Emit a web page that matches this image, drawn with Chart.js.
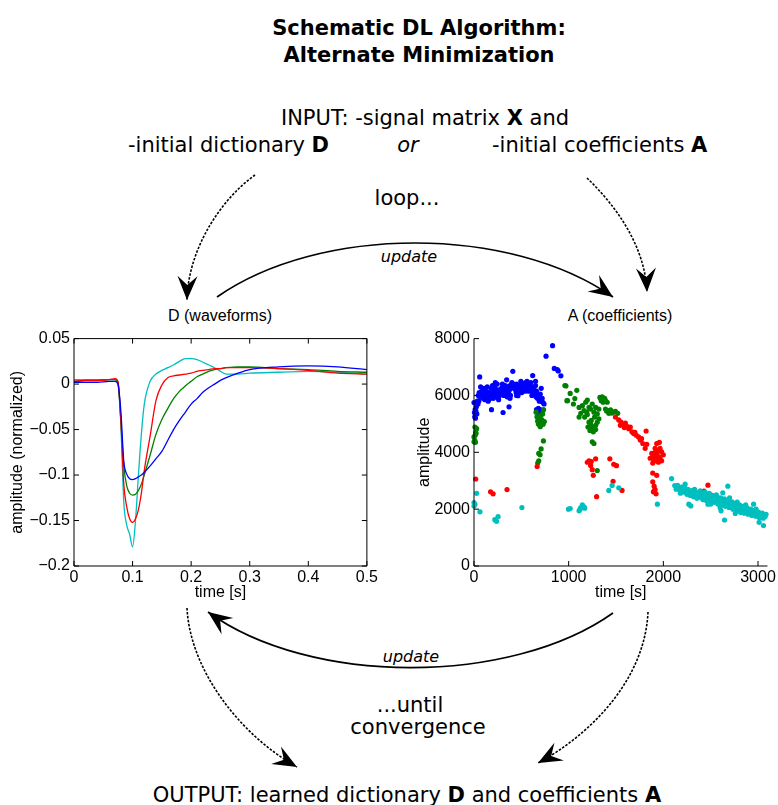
<!DOCTYPE html>
<html>
<head>
<meta charset="utf-8">
<script src="https://cdn.jsdelivr.net/npm/chart.js@4.4.1/dist/chart.umd.min.js"></script>
<style>
  html, body { margin: 0; padding: 0; background: #fff; }
  #page { position: relative; width: 778px; height: 805px; overflow: hidden; font-family: 'DejaVu Sans', sans-serif; color: #000; }
  .t { position: absolute; white-space: nowrap; transform: translate(-50%, -50%); font-size: 21px; line-height: 1; }
  .l { transform: translate(0, -50%); }
  .it { font-style: italic; }
  .small { font-size: 16px; }
  .plotTitle { font-family: 'Liberation Sans', Arial, sans-serif; font-size: 16px; }
  .box { position: absolute; }
  #arrows { position: absolute; left: 0; top: 0; pointer-events: none; }
</style>
</head>
<body>
<div id="page">
  <div class="t" style="left:419px; top:28px; font-weight:bold">Schematic DL Algorithm:</div>
  <div class="t" style="left:419px; top:55px; font-weight:bold">Alternate Minimization</div>
  <div class="t" style="left:425px; top:118px">INPUT: -signal matrix <b>X</b> and</div>
  <div class="t l" style="left:128px; top:145px">-initial dictionary <b>D</b></div>
  <div class="t it" style="left:408px; top:145px">or</div>
  <div class="t l" style="left:492px; top:145px">-initial coefficients <b>A</b></div>
  <div class="t" style="left:407px; top:198px">loop...</div>
  <div class="t it small" style="left:409px; top:257px">update</div>
  <div class="t plotTitle" style="left:220px; top:316px">D (waveforms)</div>
  <div class="t plotTitle" style="left:620px; top:316px">A (coefficients)</div>
  <div class="box" style="left:0; top:325px; width:380px; height:277px"><canvas id="waveChart"></canvas></div>
  <div class="box" style="left:400px; top:325px; width:378px; height:277px"><canvas id="coefChart"></canvas></div>
  <div class="t it small" style="left:411px; top:657px">update</div>
  <div class="t" style="left:410px; top:705px">...until</div>
  <div class="t" style="left:418px; top:727px">convergence</div>
  <div class="t" style="left:407px; top:795px">OUTPUT: learned dictionary <b>D</b> and coefficients <b>A</b></div>
  <canvas id="arrows" width="778" height="805"></canvas>
</div>
<script>
// waveforms (left panel)
const waveTime = [0, 0.02, 0.04, 0.06, 0.07, 0.075, 0.08, 0.085, 0.09, 0.095, 0.1, 0.105, 0.11, 0.115, 0.12, 0.13, 0.14, 0.15, 0.16, 0.17, 0.18, 0.19, 0.2, 0.21, 0.22, 0.23, 0.24, 0.25, 0.26, 0.28, 0.3, 0.35, 0.4, 0.45, 0.5];
const waveBlue  = [0.002, 0.002, 0.002, 0.003, 0.003, 0.0, -0.03, -0.085, -0.099, -0.104, -0.105, -0.104, -0.102, -0.100, -0.097, -0.090, -0.082, -0.074, -0.062, -0.050, -0.040, -0.031, -0.022, -0.016, -0.009, -0.004, 0.0, 0.004, 0.007, 0.012, 0.016, 0.019, 0.020, 0.019, 0.016];
const waveGreen = [0.003, 0.004, 0.004, 0.005, 0.005, 0.002, -0.04, -0.09, -0.112, -0.12, -0.122, -0.121, -0.117, -0.110, -0.100, -0.078, -0.055, -0.039, -0.027, -0.016, -0.008, -0.002, 0.003, 0.008, 0.011, 0.014, 0.016, 0.017, 0.018, 0.019, 0.019, 0.017, 0.016, 0.014, 0.013];
const waveRed   = [0.003, 0.004, 0.004, 0.005, 0.006, 0.003, -0.04, -0.11, -0.135, -0.148, -0.152, -0.148, -0.138, -0.12, -0.095, -0.057, -0.018, -0.001, 0.007, 0.009, 0.010, 0.011, 0.012, 0.014, 0.015, 0.016, 0.017, 0.017, 0.018, 0.018, 0.018, 0.017, 0.015, 0.012, 0.011];
const waveCyan  = [0.005, 0.005, 0.005, 0.005, 0.005, 0.0, -0.045, -0.13, -0.155, -0.165, -0.179, -0.15, -0.10, -0.055, -0.022, 0.003, 0.011, 0.015, 0.018, 0.021, 0.025, 0.028, 0.028, 0.027, 0.024, 0.021, 0.018, 0.014, 0.011, 0.011, 0.012, 0.013, 0.014, 0.013, 0.011];
const waveXTicks = [0, 0.1, 0.2, 0.3, 0.4, 0.5];
const waveYTicks = [-0.2, -0.15, -0.1, -0.05, 0, 0.05];

// coefficients (right panel), [time, amplitude]
const coefBlue = [
  [0,5750],[5,5400],[8,5250],[12,5500],[15,5200],[20,5450],[25,5600],[30,5350],[35,5800],[42,5700],[45,6000],[50,5800],[55,6100],[60,6650],[63,5950],[70,6300],[75,6050],[80,5950],[85,6150],[90,6000],[95,5900],
  [100,6100],[105,5950],[110,6050],[115,5850],[120,6000],[125,6150],[130,5900],[135,6050],[140,5950],[145,6100],[150,6000],[155,5850],[160,6100],[170,6000],[175,5900],[180,6250],[185,5500],[190,6100],[195,6350],[200,6000],[205,5900],[210,6150],[215,6050],[220,6300],[225,6450],[230,5950],[235,6100],[240,6000],[250,5950],[255,6200],[260,6050],[270,6000],[280,6150],[290,6250],[300,6100],[307,5400],[310,6300],[315,6000],[320,6200],[330,6350],[335,6150],[340,6050],[345,6550],[350,6250],[360,6300],[365,6100],[370,5600],[375,6200],[380,6350],[385,6000],[390,6250],[400,6300],[410,6850],[415,6400],[425,6250],[430,6350],[440,6200],[445,6100],[450,6400],[460,6300],[464,5990],[470,6250],[480,6350],[490,6100],[495,6500],[500,6300],[510,6200],[515,6400],[520,6250],[530,6350],[540,6150],[545,6450],[550,6300],[560,6250],[570,6400],[580,6150],[590,6350],[600,6450],[605,6200],[610,6300],[620,6700],[625,6100],[630,6250],[640,6050],[650,6350],[655,5950],[660,6150],[670,5900],[680,6000],[690,5800],[700,6050],[710,6250],[715,5800],[720,5900],[730,5750],[740,5700],[660,5500],[675,5400],[680,5550],[690,5250],[700,5500],[685,5350],
  [110,6250],[150,5800],[200,6300],[260,5850],[300,6400],[350,5950],[400,6450],[450,6000],[505,6100],[560,6500],[612,6000],[650,6500],[245,6400],[140,6300],[380,5900],
  [761,7380],[830,7750],[848,6950],[880,6910],[890,6860],[918,6690]
];
const coefGreen = [
  [0,4370],[0,4540],[8,4420],[10,4890],[12,4600],[18,4700],[21,4660],[28,4830],[15,4350],
  [656,5410],[665,5250],[672,5100],[680,5000],[688,5200],[692,4960],[700,5050],[705,5300],[710,4980],[715,5150],[720,5060],[725,5350],[730,4990],[735,5500],[743,5080],[700,4900],[690,5050],
  [733,4400],[709,4120],[698,3910],[684,3960],[684,3700],[673,3620],
  [960,6350],[971,6335],[981,5815],[988,5815],[1016,6070],[1050,5700],[1065,5890],[1086,6180],
  [1110,5580],[1145,5640],[1180,5760],[1197,5840],[1215,5580],[1232,5520],[1249,5700],[1267,5410],[1285,5580],[1302,5350],[1319,5520],[1162,5470],[1128,5370],[1110,5240],[1169,5240],[1197,5330],[1215,5060],[1232,4980],[1249,4890],[1267,4830],[1285,4950],[1302,5060],[1319,5180],[1204,4890],[1225,4770],[1260,4720],[1285,4800],[1239,5120],[1274,5240],[1190,5410],
  [1330,5930],[1354,5950],[1372,5870],[1389,5815],[1344,5815],[1407,5760],[1364,5760],[1340,5880],[1380,5900],
  [1389,5520],[1414,5470],[1442,5490],[1469,5410],[1494,5440],[1518,5370],[1424,5370],[1400,5450],[1455,5380],
  [1249,4370],[1267,4310],[1302,3360]
];
const coefRed = [
  [18,3060],[175,2610],[202,2540],[349,2690],[667,3500],
  [1197,3650],[1215,3700],[1239,3675],[1285,3770],[1232,3540],[1249,3390],[1260,3190],[1295,2440],[1435,3770],[1476,3580],[1505,3530],[1469,2980],[1564,2660],
  [1494,5240],[1529,5140],[1553,5060],[1574,4980],[1599,5030],[1616,4910],[1634,4830],[1651,4890],[1668,4720],[1686,4660],[1714,4600],[1738,4540],[1756,4430],[1783,4310],[1818,4750],[1546,4950],[1588,4870],[1700,4700],[1770,4480],[1808,4140],[1825,4280],
  [1930,4310],[1958,4350],[1913,4140],[1948,4050],[1982,4020],[1878,3960],[1895,3850],[1930,3910],[1965,3790],[2000,3910],[1913,3700],[1948,3650],[1888,3620],[1982,3700],[1861,3790],[1913,4000],[1965,4140],[1937,3790],[1900,3750],[1950,3850],[1920,3820],
  [1888,3270],[1930,3190],[1888,2960],[1903,2810],[1913,2690],[1895,2610],[1923,2540],[1905,2650],
  [2429,2635],[2471,2843],[2506,2496]
];
const coefCyan = [
  [0,2230],[0,2115],[10,2170],[28,2555],[63,1907],[220,1630],[238,1571],[254,1734],[506,2056],[998,2000],
  [1016,2022],[1110,1942],[1120,2000],[1128,2056],[1145,2150],[1162,2080],[1170,2035],
  [1424,2659],[1459,2833],[1529,2750],[1937,2174],[2087,3075],
  [2120,2830],[2135,2700],[2150,2840],[2160,2760],[2175,2660],[2190,2780],[2200,2700],[2215,2600],[2225,2760],[2240,2640],[2250,2520],[2260,2700],[2275,2600],[2285,2480],[2300,2650],[2310,2560],[2320,2440],[2335,2620],[2345,2500],[2355,2380],[2370,2580],[2380,2470],[2390,2640],[2400,2400],[2410,2520],[2420,2330],[2435,2560],[2445,2440],[2455,2300],[2465,2500],[2475,2380],[2485,2560],[2495,2270],[2505,2430],[2515,2330],[2525,2480],[2535,2240],[2545,2400],[2555,2300],[2565,2450],[2575,2180],[2585,2350],[2595,2260],[2605,2400],[2615,2150],[2625,2300],[2635,2200],[2645,2360],[2655,2100],[2665,2250],[2675,2150],[2685,2320],[2695,2060],[2705,2200],[2715,2100],[2725,2260],[2735,2000],[2745,2150],[2755,2050],[2765,2200],[2775,1950],[2785,2100],[2795,2000],[2805,2150],[2815,1900],[2825,2050],[2835,1960],[2845,2100],[2855,1860],[2865,2000],[2875,1900],[2885,2050],[2895,1820],[2905,1960],[2915,1860],[2925,2000],[2935,1780],[2945,1920],[2955,1820],[2965,1960],[2975,1750],[2985,1880],[2995,1790],[3005,1900],[3015,1700],[3025,1840],[3035,1760],[3045,1860],[3055,1680],[3065,1800],[3075,1740],[3085,1820],
  [2180,2560],[2230,2880],[2330,2700],[2440,2600],[2560,2500],[2700,2400],[2780,2250],[2870,2150],[2980,2000],[2500,2180],[2600,2050],[2760,1850],
  [2269,2174],[2290,2115],[2646,1619],[2681,2808],[2628,2577],[2953,2174],[3012,1536],[3058,1422],[2820,1883],[2471,2174],[2610,1942]
];
const coefXTicks = [0, 1000, 2000, 3000];
const coefYTicks = [0, 2000, 4000, 6000, 8000];

const MBLUE = '#0000ff', MGREEN = '#008000', MRED = '#ff0000', MCYAN = '#00bfbf';

Chart.defaults.font.family = "'Liberation Sans', Arial, sans-serif";
Chart.defaults.font.size = 16;
Chart.defaults.color = '#000';

// matlab style axes: frame + ticks pointing inward
const axesFrame = {
    id: 'axesFrame',
    afterDatasetsDraw(chart, args, opts) {
        const { ctx, chartArea: a, scales: { x, y } } = chart;
        const L = 5;
        ctx.save();
        ctx.strokeStyle = '#000';
        ctx.lineWidth = 1;
        ctx.beginPath();
        if (opts.box) {
            ctx.rect(a.left, a.top, a.right - a.left, a.bottom - a.top);
        } else {
            ctx.moveTo(a.left, a.top);
            ctx.lineTo(a.left, a.bottom);
            ctx.lineTo(a.right, a.bottom);
        }
        x.ticks.forEach(t => {
            const px = x.getPixelForValue(t.value);
            ctx.moveTo(px, a.bottom); ctx.lineTo(px, a.bottom - L);
            if (opts.box) { ctx.moveTo(px, a.top); ctx.lineTo(px, a.top + L); }
        });
        y.ticks.forEach(t => {
            const py = y.getPixelForValue(t.value);
            ctx.moveTo(a.left, py); ctx.lineTo(a.left + L, py);
            if (opts.box) { ctx.moveTo(a.right, py); ctx.lineTo(a.right - L, py); }
        });
        ctx.stroke();
        ctx.restore();
    }
};

function fmt(v) {
    return v === 0 ? '0' : String(v).replace('-', '\u2212');
}

function axis(min, max, ticks, title, isY, titlePad) {
    return {
        type: 'linear',
        min: min,
        max: max,
        grid: { display: false, drawTicks: false },
        border: { display: false },
        afterBuildTicks: s => { s.ticks = ticks.map(v => ({ value: v })); },
        afterFit: s => { if (isY) s.width = 74; else s.height = 36; },
        ticks: { padding: isY ? 4 : 2, callback: v => fmt(v), font: { size: 16 } },
        title: { display: true, text: title, font: { size: 16 }, padding: isY ? { top: titlePad } : { bottom: 0 } }
    };
}

function waveSet(vals, color, order) {
    return {
        data: waveTime.map((t, i) => ({ x: t, y: vals[i] })),
        borderColor: color,
        borderWidth: 1.3,
        pointRadius: 0,
        cubicInterpolationMode: 'monotone',
        order: order
    };
}

new Chart(document.getElementById('waveChart'), {
    type: 'line',
    data: {
        datasets: [
            waveSet(waveBlue, MBLUE, 1),
            waveSet(waveGreen, MGREEN, 3),
            waveSet(waveRed, MRED, 2),
            waveSet(waveCyan, MCYAN, 4)
        ]
    },
    options: {
        responsive: true,
        maintainAspectRatio: false,
        animation: false,
        layout: { padding: { top: 10, right: 13, left: 0, bottom: 0 } },
        plugins: { legend: { display: false }, tooltip: { enabled: false }, axesFrame: { box: true } },
        scales: {
            x: axis(0, 0.5, waveXTicks, 'time [s]', false),
            y: axis(-0.2, 0.05, waveYTicks, 'amplitude (normalized)', true, 8)
        }
    },
    plugins: [axesFrame]
});

function coefSet(pts, color, order) {
    return {
        data: pts.map(p => ({ x: p[0], y: p[1] })),
        backgroundColor: color,
        borderWidth: 0,
        pointRadius: 2.6,
        clip: false,
        order: order
    };
}

new Chart(document.getElementById('coefChart'), {
    type: 'scatter',
    data: {
        datasets: [
            coefSet(coefBlue, MBLUE, 4),
            coefSet(coefGreen, MGREEN, 3),
            coefSet(coefRed, MRED, 2),
            coefSet(coefCyan, MCYAN, 1)
        ]
    },
    options: {
        responsive: true,
        maintainAspectRatio: false,
        animation: false,
        layout: { padding: { top: 10, right: 6, left: 0, bottom: 0 } },
        plugins: { legend: { display: false }, tooltip: { enabled: false }, axesFrame: { box: false } },
        scales: {
            x: axis(0, 3100, coefXTicks, 'time [s]', false),
            y: axis(0, 8000, coefYTicks, 'amplitude', true, 15)
        }
    },
    plugins: [axesFrame]
});

// flow arrows of the schematic
const arrows = [
    { p: [[255, 175], [220, 200], [188, 250], [187, 300]], dash: true },
    { p: [[587, 178], [615, 205], [645, 245], [647, 292]], dash: true },
    { p: [[217, 297], [320, 225], [510, 225], [613, 297]], dash: false },
    { p: [[613, 613], [510, 686], [310, 686], [208, 612]], dash: false },
    { p: [[187, 608], [190, 670], [240, 735], [297, 767]], dash: true },
    { p: [[648, 612], [645, 680], [590, 735], [538, 763]], dash: true }
];

function drawArrows() {
    const ctx = document.getElementById('arrows').getContext('2d');
    ctx.strokeStyle = '#000';
    ctx.fillStyle = '#000';
    arrows.forEach(a => {
        const [p0, c1, c2, p3] = a.p;
        ctx.setLineDash(a.dash ? [2.5, 1.5] : []);
        ctx.lineWidth = a.dash ? 1.6 : 1.7;
        ctx.beginPath();
        ctx.moveTo(p0[0], p0[1]);
        ctx.bezierCurveTo(c1[0], c1[1], c2[0], c2[1], p3[0], p3[1]);
        ctx.stroke();
        const ang = Math.atan2(p3[1] - c2[1], p3[0] - c2[0]);
        ctx.setLineDash([]);
        ctx.save();
        ctx.translate(p3[0], p3[1]);
        ctx.rotate(ang);
        ctx.beginPath();
        ctx.moveTo(0, 0);
        ctx.lineTo(-24, -10);
        ctx.lineTo(-15, 0);
        ctx.lineTo(-24, 10);
        ctx.closePath();
        ctx.fill();
        ctx.restore();
    });
}
drawArrows();
</script>
</body>
</html>
